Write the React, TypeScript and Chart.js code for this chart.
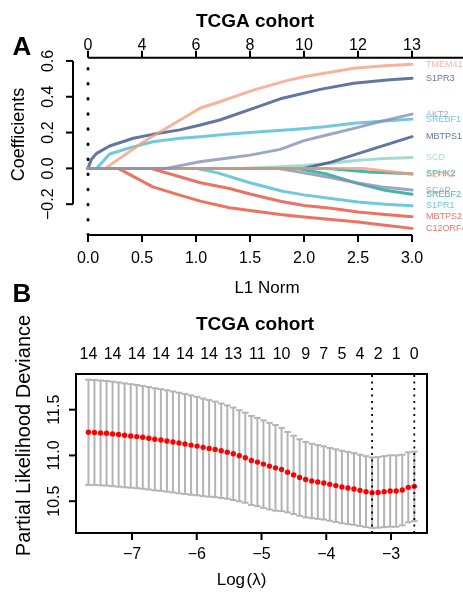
import React, { useEffect, useRef } from "react";
import { Chart, registerables } from "chart.js";
Chart.register(...registerables);

const FONT = '"Liberation Sans", Arial, Helvetica, sans-serif';

// ---------------- Panel A : coefficient paths ----------------
const l1TickValues = [0, 0.5, 1.0, 1.5, 2.0, 2.5, 3.0];
const l1TickLabels = ["0.0", "0.5", "1.0", "1.5", "2.0", "2.5", "3.0"];
const dfTickLabels = ["0", "4", "6", "8", "10", "12", "13"];
const coefTickValues = [-0.2, 0.0, 0.2, 0.4, 0.6];
const coefTickLabels = ["\u22120.2", "0.0", "0.2", "0.4", "0.6"];

// [L1 norm, coefficient]
const pathAKT2 = [[0, 0], [0.72, 0], [1.05, 0.038], [1.3, 0.058], [1.5, 0.074], [1.78, 0.106], [2.0, 0.155], [2.25, 0.192], [2.5, 0.229], [2.75, 0.268], [3.0, 0.303]];
const pathS1PR2 = [[0, 0], [2.55, 0], [3.0, -0.033]];
const pathSPHK2 = [[0, 0], [2.2, 0], [2.6, -0.02], [3.0, -0.03]];
const pathMBTPS1 = [[0, 0], [2.0, 0], [2.25, 0.035], [2.5, 0.082], [2.75, 0.13], [3.0, 0.177]];
const pathSCAP = [[0, 0], [1.75, 0], [2.0, -0.025], [2.25, -0.052], [2.5, -0.082], [2.75, -0.106], [3.0, -0.121]];
const pathSREBF2 = [[0, 0], [1.93, 0], [2.2, -0.03], [2.5, -0.085], [2.75, -0.122], [3.0, -0.144]];
const pathSCD = [[0, 0], [1.4, 0], [1.75, 0.008], [2.0, 0.016], [2.25, 0.028], [2.5, 0.045], [2.75, 0.055], [3.0, 0.061]];
const pathS1PR1 = [[0, 0], [1.0, 0], [1.2, -0.025], [1.5, -0.08], [1.8, -0.128], [2.0, -0.148], [2.25, -0.168], [2.5, -0.188], [2.75, -0.2], [3.0, -0.209]];
const pathMBTPS2 = [[0, 0], [0.58, 0], [0.85, -0.047], [1.04, -0.08], [1.31, -0.112], [1.5, -0.143], [1.78, -0.184], [2.0, -0.207], [2.25, -0.223], [2.5, -0.243], [2.75, -0.258], [3.0, -0.27]];
const pathC12ORF49 = [[0, 0], [0.28, 0], [0.6, -0.103], [0.85, -0.149], [1.04, -0.183], [1.31, -0.22], [1.5, -0.235], [1.78, -0.258], [2.0, -0.272], [2.25, -0.286], [2.5, -0.3], [2.75, -0.318], [3.0, -0.335]];
const pathTMEM41A = [[0, 0], [0.16, 0], [0.54, 0.158], [1.04, 0.337], [1.22, 0.372], [1.53, 0.437], [1.84, 0.49], [2.0, 0.512], [2.46, 0.559], [2.75, 0.573], [3.0, 0.581]];
const pathSREBF1 = [[0, 0], [0.08, 0], [0.2, 0.08], [0.4, 0.117], [0.6, 0.149], [0.85, 0.168], [1.04, 0.177], [1.31, 0.192], [1.5, 0.201], [1.96, 0.22], [2.19, 0.232], [2.46, 0.252], [2.75, 0.265], [3.0, 0.275]];
const pathS1PR3 = [[0, 0], [0.03, 0.05], [0.08, 0.084], [0.2, 0.125], [0.42, 0.168], [0.6, 0.19], [0.85, 0.215], [1.04, 0.242], [1.22, 0.27], [1.53, 0.335], [1.8, 0.392], [2.15, 0.441], [2.46, 0.475], [2.77, 0.493], [3.0, 0.503]];

// drawing order: first = on top
const geneNames = ["AKT2", "S1PR2", "SPHK2", "MBTPS1", "SCAP", "SREBF2", "SCD", "S1PR1", "MBTPS2", "C12ORF49", "TMEM41A", "SREBF1", "S1PR3"];
const genePaths = [pathAKT2, pathS1PR2, pathSPHK2, pathMBTPS1, pathSCAP, pathSREBF2, pathSCD, pathS1PR1, pathMBTPS2, pathC12ORF49, pathTMEM41A, pathSREBF1, pathS1PR3];
const geneColors = [
  "rgba(132,145,180,0.8)", "rgba(243,155,127,0.8)", "rgba(0,160,135,0.75)", "rgba(60,84,136,0.8)",
  "rgba(132,145,180,0.8)", "rgba(0,160,135,0.75)", "rgba(145,209,194,0.8)", "rgba(77,187,213,0.8)",
  "rgba(230,75,53,0.78)", "rgba(230,75,53,0.78)", "rgba(243,155,127,0.75)", "rgba(77,187,213,0.8)", "rgba(60,84,136,0.8)",
];

// ---------------- Panel B : cross-validation ----------------
const logLambda = [
  -7.673, -7.580, -7.486, -7.393, -7.300, -7.207, -7.114, -7.020, -6.927, -6.834,
  -6.741, -6.648, -6.554, -6.461, -6.368, -6.275, -6.182, -6.088, -5.995, -5.902,
  -5.809, -5.716, -5.622, -5.529, -5.436, -5.343, -5.250, -5.156, -5.063, -4.970,
  -4.877, -4.784, -4.690, -4.597, -4.504, -4.411, -4.318, -4.224, -4.131, -4.038,
  -3.945, -3.852, -3.758, -3.665, -3.572, -3.479, -3.386, -3.292, -3.199, -3.106,
  -3.013, -2.920, -2.826, -2.733, -2.640,
];
const cvMean = [
  11.253, 11.250, 11.246, 11.242, 11.235, 11.228, 11.220, 11.213, 11.206, 11.198,
  11.187, 11.176, 11.169, 11.158, 11.147, 11.136, 11.125, 11.113, 11.102, 11.088,
  11.077, 11.066, 11.051, 11.036, 11.018, 10.996, 10.975, 10.945, 10.927, 10.905,
  10.883, 10.864, 10.846, 10.817, 10.787, 10.758, 10.736, 10.721, 10.710, 10.699,
  10.684, 10.670, 10.655, 10.644, 10.633, 10.618, 10.604, 10.593, 10.596, 10.604,
  10.611, 10.611, 10.622, 10.651, 10.662,
];
const cvSd = [
  0.575, 0.574, 0.573, 0.572, 0.571, 0.570, 0.568, 0.566, 0.564, 0.562,
  0.560, 0.558, 0.556, 0.554, 0.552, 0.550, 0.547, 0.543, 0.538, 0.533,
  0.528, 0.522, 0.516, 0.510, 0.505, 0.498, 0.492, 0.487, 0.482, 0.478,
  0.473, 0.468, 0.455, 0.440, 0.428, 0.418, 0.412, 0.407, 0.403, 0.400,
  0.398, 0.397, 0.396, 0.395, 0.392, 0.390, 0.388, 0.385, 0.386, 0.388,
  0.390, 0.390, 0.386, 0.383, 0.380,
];
const nzeroLabelIndex = [0, 4, 8, 12, 16, 20, 24, 28, 32, 36, 39, 42, 45, 48, 51, 54];
const nzeroLabels = ["14", "14", "14", "14", "14", "14", "13", "11", "10", "9", "7", "5", "4", "2", "1", "0"];
const logLambdaMin = -3.292;
const logLambda1se = -2.64;
const lambdaTickValues = [-7, -6, -5, -4, -3];
const lambdaTickLabels = ["\u22127", "\u22126", "\u22125", "\u22124", "\u22123"];
const devTickValues = [10.5, 11.0, 11.5];
const devTickLabels = ["10.5", "11.0", "11.5"];

// ---------------- helpers ----------------
function txt(ctx: CanvasRenderingContext2D, s: string, x: number, y: number, font: string, opts: any = {}) {
  ctx.save();
  ctx.font = font;
  ctx.fillStyle = opts.color || "#000";
  ctx.textAlign = opts.align || "center";
  ctx.textBaseline = "middle";
  ctx.translate(x, y);
  if (opts.rot) ctx.rotate(opts.rot);
  ctx.fillText(s, 0, 0);
  ctx.restore();
}
function seg(ctx: CanvasRenderingContext2D, x1: number, y1: number, x2: number, y2: number) {
  ctx.beginPath();
  ctx.moveTo(x1, y1);
  ctx.lineTo(x2, y2);
  ctx.stroke();
}

const panelAPlugin = {
  id: "panelA",
  afterDraw(chart: any) {
    const { ctx, chartArea: ca, scales } = chart;
    const x = scales.x, y = scales.y;
    ctx.save();
    ctx.strokeStyle = "#000";
    ctx.lineWidth = 2;
    ctx.lineCap = "butt";
    // left axis
    seg(ctx, ca.left, y.getPixelForValue(coefTickValues[coefTickValues.length - 1]), ca.left, y.getPixelForValue(coefTickValues[0]));
    coefTickValues.forEach((v, i) => {
      const py = y.getPixelForValue(v);
      seg(ctx, ca.left, py, ca.left - 7, py);
      txt(ctx, coefTickLabels[i], ca.left - 24, py, `16px ${FONT}`, { rot: -Math.PI / 2 });
    });
    // bottom axis
    seg(ctx, x.getPixelForValue(l1TickValues[0]), ca.bottom, x.getPixelForValue(l1TickValues[l1TickValues.length - 1]), ca.bottom);
    l1TickValues.forEach((v, i) => {
      const px = x.getPixelForValue(v);
      seg(ctx, px, ca.bottom, px, ca.bottom + 7);
      txt(ctx, l1TickLabels[i], px, ca.bottom + 24, `16px ${FONT}`);
    });
    // top axis
    seg(ctx, x.getPixelForValue(l1TickValues[0]), ca.top, ca.right, ca.top);
    l1TickValues.forEach((v, i) => {
      const px = x.getPixelForValue(v);
      seg(ctx, px, ca.top, px, ca.top - 7);
      txt(ctx, dfTickLabels[i], px, ca.top - 12, `16px ${FONT}`);
    });
    // gene labels (drawn bottom-most first, so top-most dataset labels end up on top)
    for (let i = genePaths.length - 1; i >= 0; i--) {
      const p = genePaths[i];
      const last = p[p.length - 1];
      txt(ctx, geneNames[i], x.getPixelForValue(last[0]) + 14, y.getPixelForValue(last[1]), `9px ${FONT}`, { color: geneColors[i], align: "left" });
    }
    txt(ctx, "L1 Norm", 267, 288, `17px ${FONT}`);
    txt(ctx, "Coefficients", 19, 134.5, `18px ${FONT}`, { rot: -Math.PI / 2 });
    txt(ctx, "TCGA cohort", 255, 21.5, `bold 19px ${FONT}`);
    txt(ctx, "A", 22, 48, `bold 26px ${FONT}`);
    txt(ctx, "B", 22, 295, `bold 26px ${FONT}`);
    ctx.restore();
  },
};

const panelBPlugin = {
  id: "panelB",
  beforeDatasetsDraw(chart: any) {
    const { ctx, scales } = chart;
    const x = scales.x, y = scales.y;
    const barw = (logLambda[logLambda.length - 1] - logLambda[0]) * 0.01;
    ctx.save();
    ctx.strokeStyle = "#b4b4b4";
    ctx.lineWidth = 2;
    logLambda.forEach((l, i) => {
      const px = x.getPixelForValue(l);
      const up = y.getPixelForValue(cvMean[i] + cvSd[i]);
      const lo = y.getPixelForValue(cvMean[i] - cvSd[i]);
      const xl = x.getPixelForValue(l - barw), xr = x.getPixelForValue(l + barw);
      seg(ctx, px, up, px, lo);
      seg(ctx, xl, up, xr, up);
      seg(ctx, xl, lo, xr, lo);
    });
    ctx.restore();
  },
  afterDraw(chart: any) {
    const { ctx, chartArea: ca, scales } = chart;
    const x = scales.x, y = scales.y;
    ctx.save();
    ctx.strokeStyle = "#000";
    ctx.lineWidth = 2;
    ctx.strokeRect(ca.left, ca.top, ca.right - ca.left, ca.bottom - ca.top);
    lambdaTickValues.forEach((v, i) => {
      const px = x.getPixelForValue(v);
      seg(ctx, px, ca.bottom, px, ca.bottom + 7);
      txt(ctx, lambdaTickLabels[i], px, ca.bottom + 22, `16px ${FONT}`);
    });
    devTickValues.forEach((v, i) => {
      const py = y.getPixelForValue(v);
      seg(ctx, ca.left, py, ca.left - 7, py);
      txt(ctx, devTickLabels[i], ca.left - 21, py, `16px ${FONT}`, { rot: -Math.PI / 2 });
    });
    nzeroLabelIndex.forEach((idx, i) => {
      txt(ctx, nzeroLabels[i], x.getPixelForValue(logLambda[idx]), ca.top - 19, `16px ${FONT}`);
    });
    txt(ctx, "Log\u200a(\u03bb)", 241.5, ca.bottom + 47, `17px ${FONT}`);
    txt(ctx, "Partial Likelihood Deviance", 24, 125.5, `20px ${FONT}`, { rot: -Math.PI / 2 });
    txt(ctx, "TCGA cohort", 255, 14.5, `bold 19px ${FONT}`);
    ctx.restore();
  },
};

export default function App() {
  const refA = useRef<HTMLCanvasElement>(null);
  const refB = useRef<HTMLCanvasElement>(null);

  useEffect(() => {
    const yMinA = -0.372, yMaxA = 0.618;
    const dsA: any[] = [
      {
        label: "lambda",
        data: [{ x: 0, y: yMinA }, { x: 0, y: yMaxA }],
        borderColor: "#000",
        borderWidth: 3,
        borderDash: [0.5, 14.6],
        borderCapStyle: "round",
        pointRadius: 0,
      },
      ...geneNames.map((g, i) => ({
        label: g,
        data: genePaths[i].map(([a, b]) => ({ x: a, y: b })),
        borderColor: geneColors[i],
        borderWidth: 3,
        borderJoinStyle: "round",
        borderCapStyle: "round",
        pointRadius: 0,
        tension: 0,
      })),
    ];
    const chartA = new Chart(refA.current!, {
      type: "line",
      data: { datasets: dsA },
      options: {
        responsive: false,
        animation: false,
        devicePixelRatio: 1,
        events: [],
        layout: { padding: { left: 73, top: 57.7, right: 0, bottom: 75 } },
        plugins: { legend: { display: false }, tooltip: { enabled: false } },
        scales: {
          x: { type: "linear", min: -0.139, max: 3.472, display: false },
          y: { type: "linear", min: yMinA, max: yMaxA, display: false },
        },
      },
      plugins: [panelAPlugin],
    } as any);

    const yMinB = 10.152, yMaxB = 11.89;
    const dsB: any[] = [
      {
        label: "min",
        data: [{ x: logLambdaMin, y: yMinB }, { x: logLambdaMin, y: yMaxB }],
        borderColor: "#000",
        borderWidth: 1.8,
        borderDash: [2, 4.5],
        pointRadius: 0,
      },
      {
        label: "1se",
        data: [{ x: logLambda1se, y: yMinB }, { x: logLambda1se, y: yMaxB }],
        borderColor: "#000",
        borderWidth: 1.8,
        borderDash: [2, 4.5],
        pointRadius: 0,
      },
      {
        label: "cvm",
        data: logLambda.map((l, i) => ({ x: l, y: cvMean[i] })),
        showLine: false,
        pointRadius: 2.7,
        pointBackgroundColor: "#ff0000",
        pointBorderWidth: 0,
        borderColor: "#ff0000",
      },
    ];
    const chartB = new Chart(refB.current!, {
      type: "line",
      data: { datasets: dsB },
      options: {
        responsive: false,
        animation: false,
        devicePixelRatio: 1,
        events: [],
        layout: { padding: { left: 76, top: 64, right: 36, bottom: 59 } },
        plugins: { legend: { display: false }, tooltip: { enabled: false } },
        scales: {
          x: { type: "linear", min: -7.865, max: -2.444, display: false },
          y: { type: "linear", min: yMinB, max: yMaxB, display: false },
        },
      },
      plugins: [panelBPlugin],
    } as any);

    return () => {
      chartA.destroy();
      chartB.destroy();
    };
  }, []);

  return (
    <div style={{ position: "fixed", left: 0, top: 0, width: 463, height: 592, background: "#fff" }}>
      <canvas ref={refA} width={463} height={310} style={{ position: "absolute", left: 0, top: 0 }} />
      <canvas ref={refB} width={463} height={282} style={{ position: "absolute", left: 0, top: 310 }} />
    </div>
  );
}
